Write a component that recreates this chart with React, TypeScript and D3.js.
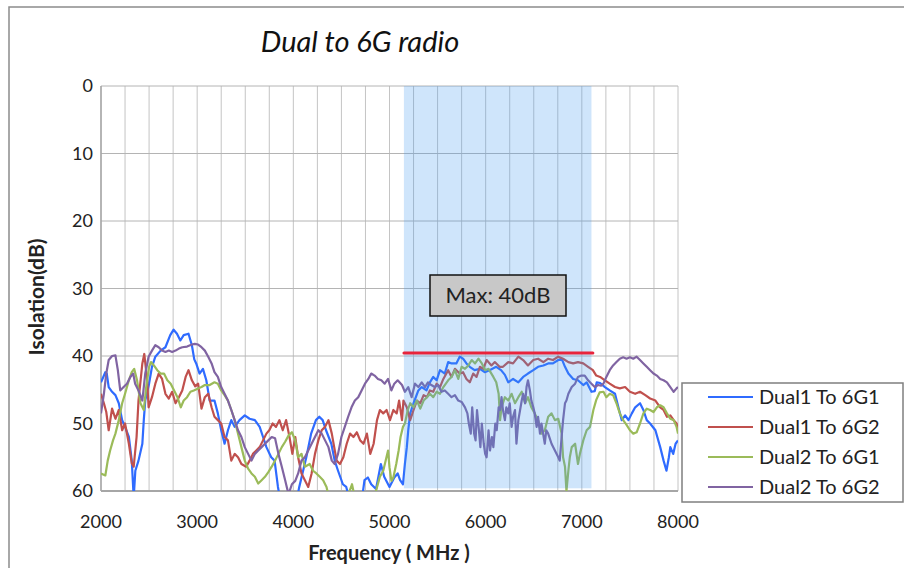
import React from "react";
import * as d3 from "d3";

// Isolation measurements, [frequency MHz, isolation dB]
const dual1To6G1: [number, number][] = [
  [2000,43.9],[2045,42.4],[2060,42.6],[2080,44.6],[2115,45.3],[2150,45.8],[2185,47],[2220,49.5],[2250,50.5],[2290,52],[2320,55.5],[2340,61],[2357,57],[2390,55.5],[2430,53],[2445,49.5],[2460,46.6],[2500,44.1],[2530,41.6],[2565,40.1],[2620,39.2],[2670,38.7],[2720,36.9],[2755,36.1],[2790,36.7],[2825,37.7],[2860,36.9],[2910,36.7],[2945,38.4],[2970,40.5],[2990,41.1],[3025,42.6],[3060,41.9],[3095,43.6],[3130,46.6],[3180,46.6],[3215,48.5],[3250,51],[3285,53],[3320,51],[3355,49.5],[3390,50.5],[3440,49.5],[3495,48.8],[3545,49.3],[3600,49.5],[3650,50.5],[3685,52],[3720,53.5],[3770,55],[3805,55.5],[3840,59.4],[3860,61],[3900,62],[3950,63],[4000,62],[4040,61],[4060,59.5],[4087,57.9],[4135,55],[4185,51.5],[4235,49.5],[4270,49],[4305,49.5],[4340,51],[4395,53],[4430,55.5],[4465,57],[4515,59],[4550,59.4],[4580,61],[4650,62],[4720,60.5],[4740,58.4],[4775,58],[4810,59],[4860,59.7],[4910,56],[4945,57.9],[5000,59.4],[5050,58],[5085,57.4],[5110,58.4],[5140,59],[5160,56],[5180,53.5],[5195,51],[5215,48.5],[5250,47],[5300,45.1],[5335,44.6],[5385,45.1],[5420,43.9],[5455,43.1],[5490,43.6],[5525,42.1],[5575,42.6],[5610,40.9],[5645,41.1],[5695,41.1],[5730,40.1],[5765,40.4],[5800,41.1],[5835,41.6],[5885,42.1],[5940,41.9],[5990,42.4],[6040,42.1],[6110,41.6],[6160,42.1],[6200,42.8],[6235,43.9],[6285,43.4],[6340,43.9],[6390,43.1],[6440,42.6],[6495,42.1],[6545,41.6],[6600,41.4],[6650,41.1],[6700,41.1],[6755,40.6],[6790,40.4],[6825,41.6],[6860,42.6],[6910,43.4],[6960,43.6],[7015,44.3],[7050,43.9],[7100,45.3],[7135,45.2],[7155,43.9],[7190,44],[7240,44.6],[7290,45.1],[7345,45.6],[7380,47.6],[7415,49.5],[7450,48.8],[7485,49.5],[7520,48.5],[7555,47.6],[7605,47],[7640,48],[7675,49.5],[7710,50],[7765,51],[7815,53.5],[7850,55.5],[7880,57],[7905,55],[7920,53.5],[7950,54.5],[7975,53],[8000,52.5],
];

const dual1To6G2: [number, number][] = [
  [2000,45.6],[2030,47],[2055,48.3],[2080,51],[2115,47.8],[2150,49.3],[2185,48],[2220,51],[2250,50],[2290,53],[2320,55.9],[2340,56.4],[2370,52],[2390,46.6],[2430,41.1],[2450,39.7],[2480,43.6],[2495,47.6],[2530,46.1],[2565,44.1],[2600,42.6],[2635,43.4],[2670,45.6],[2705,46.3],[2740,45.3],[2775,47],[2810,46.1],[2845,45.1],[2880,43.1],[2910,42.1],[2945,43.6],[2980,44.5],[3010,44.1],[3045,47.8],[3080,46.1],[3115,45.6],[3150,47.6],[3180,49],[3215,49.5],[3250,50],[3285,52],[3320,52.5],[3355,55.5],[3390,54.5],[3425,55],[3460,56],[3510,56.4],[3545,55.5],[3580,54.5],[3615,54],[3650,53.5],[3685,52.5],[3720,51.5],[3750,51],[3785,50],[3820,50.5],[3855,49.5],[3890,51],[3925,49.5],[3960,52],[3990,54.5],[4020,52],[4050,55],[4085,57.4],[4120,58.4],[4155,59.4],[4190,57.4],[4225,54.5],[4260,52.5],[4295,51],[4330,50.5],[4365,49.5],[4400,51.5],[4425,53.5],[4450,55.5],[4485,56],[4520,55],[4555,53],[4590,51.5],[4625,52],[4660,51.3],[4695,52.5],[4730,53],[4765,51.5],[4800,54.5],[4835,53],[4870,49.5],[4900,48],[4935,48.5],[4970,48],[5005,49.5],[5040,48],[5075,48.5],[5100,46.6],[5130,49.5],[5145,46.6],[5180,47.6],[5215,49.5],[5250,48],[5285,46.6],[5320,47],[5355,45.8],[5390,46.1],[5420,45.1],[5455,45.3],[5490,44.1],[5525,44.6],[5560,43.4],[5610,42.1],[5645,43.1],[5680,41.9],[5730,42.6],[5765,42.4],[5800,43.4],[5835,43.9],[5870,42.6],[5905,43.1],[5940,41.6],[5975,41.9],[6010,40.6],[6060,41.4],[6095,40.9],[6145,41.6],[6180,41.6],[6235,40.9],[6285,41.1],[6340,40.1],[6390,40.6],[6440,41.4],[6495,40.6],[6545,40.4],[6600,40.9],[6650,40.4],[6700,40.6],[6755,40.1],[6805,40.4],[6860,40.9],[6910,41.1],[6960,40.9],[7015,41.1],[7065,41.6],[7115,42.1],[7150,42.9],[7190,43.1],[7240,43.6],[7290,44.1],[7345,44.6],[7395,44.8],[7450,44.6],[7500,45.3],[7555,45.6],[7605,45.3],[7660,45.8],[7710,46.3],[7765,46.6],[7815,47.6],[7850,48],[7885,49],[7920,48.8],[7955,49.5],[7985,50],[8000,51],
];

const dual2To6G1: [number, number][] = [
  [2000,57.4],[2045,57.7],[2070,55.5],[2095,54],[2125,52.5],[2150,51.5],[2185,49.5],[2220,47],[2250,45.6],[2290,43.6],[2320,42.4],[2345,41.9],[2375,43.6],[2410,47],[2445,48],[2470,44.6],[2500,41.6],[2520,40.9],[2550,41.4],[2585,42.1],[2620,42.6],[2655,42.6],[2690,43.6],[2725,44.1],[2760,45.1],[2795,46.1],[2830,47.6],[2860,46.6],[2895,46.1],[2930,45.3],[2965,45.1],[3010,44.8],[3045,44.6],[3080,44.3],[3130,44.3],[3180,43.9],[3215,44.1],[3250,45.1],[3285,45.8],[3320,46.6],[3355,48],[3390,49.5],[3425,51.5],[3460,53.5],[3495,55.5],[3530,56.7],[3565,57.4],[3600,57.9],[3635,58.9],[3670,58.4],[3705,57.9],[3740,57.2],[3775,56.4],[3810,55.5],[3845,54.5],[3880,53.5],[3915,52.7],[3950,51.8],[3985,51.3],[4020,52.5],[4050,55],[4085,54.5],[4120,56.4],[4170,56],[4205,57],[4240,57.4],[4275,57.9],[4310,58.4],[4345,59.4],[4370,61],[4450,62],[4560,61],[4610,59],[4640,61],[4750,62],[4850,60.5],[4900,57.9],[4935,57],[4985,54],[5000,56.5],[5020,58.5],[5040,58],[5070,56],[5095,54],[5115,52],[5140,50.5],[5160,50],[5190,48],[5215,47],[5250,47.6],[5285,46.6],[5320,47.8],[5355,46.6],[5390,46.1],[5420,45.6],[5455,46.1],[5490,45.3],[5525,45.6],[5560,44.6],[5610,43.6],[5645,43.1],[5680,42.1],[5715,43.4],[5750,41.6],[5785,41.9],[5820,41.4],[5855,40.6],[5890,41.1],[5925,40.4],[5960,41.1],[5995,42.1],[6030,41.9],[6080,43.1],[6110,43.9],[6135,45.6],[6150,49.5],[6165,47.6],[6200,46.1],[6235,46.6],[6270,45.6],[6305,47],[6340,46.1],[6375,45.3],[6410,47],[6440,46.1],[6475,47.6],[6510,48.5],[6545,49.5],[6580,51.5],[6615,51],[6650,49],[6685,48.5],[6720,49.5],[6755,49.3],[6790,51.5],[6805,55],[6825,56.4],[6840,60],[6860,57],[6875,55],[6895,53.5],[6930,53],[6960,56],[6980,54.5],[7015,52.5],[7050,51],[7085,50.5],[7120,48],[7150,46.5],[7185,45.4],[7225,45.3],[7255,46.1],[7290,45.6],[7325,45.8],[7360,47],[7395,48.5],[7430,49.5],[7465,50.2],[7500,51],[7535,51.5],[7570,51.3],[7605,50],[7640,48.5],[7675,47.8],[7710,48],[7745,48.3],[7780,47.6],[7815,47.3],[7850,47.6],[7885,48.5],[7920,49.3],[7955,49.5],[7985,50.5],[8000,51.5],
];

const dual2To6G2: [number, number][] = [
  [2000,48.5],[2030,45.6],[2055,42.6],[2080,40.6],[2115,40],[2150,39.9],[2175,42.1],[2200,45.1],[2235,44.6],[2270,44.1],[2305,43.1],[2335,42.6],[2355,44.1],[2390,45.1],[2430,46.6],[2460,42.6],[2495,40.1],[2530,39.2],[2565,38.4],[2600,38.7],[2635,39.2],[2670,39.4],[2705,39.2],[2740,39.4],[2775,39.2],[2810,38.9],[2845,38.7],[2895,38.6],[2945,38.3],[2975,38.2],[3010,38.3],[3045,38.7],[3080,39.2],[3115,40.1],[3150,41.1],[3180,42.4],[3215,43.1],[3250,44.6],[3285,45.6],[3320,46.6],[3355,48],[3390,49.5],[3425,51],[3460,52],[3495,53.5],[3530,54.5],[3565,55.5],[3600,54.5],[3635,54],[3670,53.5],[3705,53],[3740,52.5],[3775,52],[3810,52.2],[3845,54.5],[3880,56.4],[3915,58.4],[3950,60.5],[3985,59],[4020,58.5],[4050,57.4],[4085,55.5],[4120,55],[4155,54],[4190,53],[4225,52],[4260,51],[4295,51.5],[4330,52.5],[4365,53.5],[4400,55.5],[4430,56],[4465,54.5],[4500,52],[4535,50.5],[4570,49],[4605,47.6],[4640,46.6],[4675,46.1],[4710,45.1],[4745,44.1],[4780,43.4],[4810,42.6],[4845,42.9],[4880,43.4],[4915,43.6],[4950,44.1],[4985,43.4],[5020,45.1],[5050,44.1],[5085,43.6],[5130,44.3],[5160,45.3],[5195,44.6],[5230,46.1],[5265,44.1],[5300,44.6],[5335,43.9],[5370,44.6],[5400,43.9],[5435,44.3],[5470,44.6],[5505,44.3],[5540,45.3],[5575,45.1],[5610,45.6],[5645,46.1],[5680,45.8],[5715,46.6],[5750,46.8],[5785,47.6],[5810,48.5],[5825,50],[5845,51.5],[5860,47.6],[5880,51.5],[5895,52.5],[5910,48],[5930,51],[5945,53.5],[5960,50],[5980,53],[5995,54.5],[6010,55],[6030,51],[6045,54],[6065,52],[6080,53.5],[6100,50],[6115,51],[6135,47.6],[6150,48],[6165,46.1],[6180,48],[6200,49.5],[6215,47.6],[6235,48.5],[6250,47],[6270,50.5],[6285,49],[6305,48],[6320,53],[6340,49.5],[6375,46.6],[6390,45.6],[6410,47],[6425,44.6],[6440,43.6],[6460,45.1],[6475,46.6],[6495,47.6],[6510,48.5],[6530,50.5],[6545,49],[6565,51.5],[6580,50],[6615,53],[6630,51],[6650,51.5],[6685,53],[6720,54],[6755,55],[6770,55.5],[6790,52],[6805,49.5],[6825,47],[6840,46.6],[6860,45.6],[6895,44.6],[6930,44.1],[6960,43.1],[6995,42.9],[7030,42.9],[7065,43.6],[7100,44.1],[7135,44.6],[7170,44.3],[7200,44.4],[7225,44.1],[7255,43.1],[7290,42.1],[7325,41.4],[7360,40.9],[7395,40.4],[7430,40.2],[7465,40.4],[7500,40.2],[7535,40.4],[7570,40.1],[7605,40.6],[7640,41.1],[7675,41.6],[7710,42.1],[7745,42.6],[7780,42.9],[7815,43.4],[7850,43.6],[7885,43.9],[7920,44.6],[7955,45.3],[7985,44.8],[8000,44.6],
];

const seriesNames = ["Dual1 To 6G1", "Dual1 To 6G2", "Dual2 To 6G1", "Dual2 To 6G2"];
const seriesData = [dual1To6G1, dual1To6G2, dual2To6G1, dual2To6G2];
const seriesColors = ["#2f6bff", "#c0504d", "#9bbb59", "#8064a2"];

const freqTicks = [2000, 3000, 4000, 5000, 6000, 7000, 8000];
const dbTicks = [0, 10, 20, 30, 40, 50, 60];

// 6 GHz band highlight and the isolation limit
const bandRange = [5150, 7100];
const limitRange = [5150, 7115];
const limitDb = 40;
const limitLabel = "Max: 40dB";

const FONT = "Lato, 'Noto Sans', sans-serif";

export default function App() {
  const W = 904, H = 568;
  const left = 101, right = 678, top = 86, bottom = 491;
  const x = d3.scaleLinear().domain([2000, 8000]).range([left, right]);
  const y = d3.scaleLinear().domain([0, 60]).range([top, bottom]);
  const line = d3.line<[number, number]>().x(d => x(d[0])).y(d => y(d[1]));
  const vGrid = d3.range(2000, 8001, 250);

  return (
    <svg width={W} height={H} style={{ position: "absolute", left: 0, top: 0, background: "#fff" }} fontFamily={FONT}>
      <defs>
        <clipPath id="plotClip">
          <rect x={left} y={top} width={right - left} height={bottom - top} />
        </clipPath>
      </defs>
      <rect x={0} y={0} width={W} height={H} fill="#fff" />
      <rect x={9} y={7} width={1000} height={1000} fill="none" stroke="#8c8c8c" strokeWidth={1.5} />

      {/* title */}
      <text x={360} y={52} textAnchor="middle" fontSize={29} fontStyle="italic" fill="#111">Dual to 6G radio</text>

      {/* grid */}
      {vGrid.map(f => (
        <line key={"v" + f} x1={x(f)} x2={x(f)} y1={top} y2={bottom} stroke="#c4c4c4" strokeWidth={1} />
      ))}
      {dbTicks.map(d => (
        <line key={"h" + d} x1={left} x2={right} y1={y(d)} y2={y(d)} stroke="#b4b4b4" strokeWidth={1} />
      ))}
      <line x1={left} x2={left} y1={top} y2={bottom} stroke="#a6a6a6" strokeWidth={1.5} />
      <line x1={left} x2={right} y1={bottom} y2={bottom} stroke="#a6a6a6" strokeWidth={2} />

      {/* series */}
      <g clipPath="url(#plotClip)">
        {seriesData.map((s, i) => (
          <path key={seriesNames[i]} d={line(s) || ""} fill="none" stroke={seriesColors[i]} strokeWidth={2.2} strokeLinejoin="round" />
        ))}
      </g>

      {/* band highlight */}
      <rect x={x(bandRange[0])} y={y(0)} width={x(bandRange[1]) - x(bandRange[0])} height={y(59.6) - y(0)}
        fill="rgb(63,151,239)" fillOpacity={0.25} />

      {/* limit line */}
      <line x1={x(limitRange[0])} x2={x(limitRange[1])} y1={y(limitDb) - 3} y2={y(limitDb) - 3}
        stroke="#e8243c" strokeWidth={3} strokeLinecap="round" />
      <rect x={430} y={275} width={136} height={41} fill="#c8c8c8" stroke="#111" strokeWidth={1.5} />
      <text x={498} y={303} textAnchor="middle" fontSize={22} fill="#222">{limitLabel}</text>

      {/* axes labels */}
      {dbTicks.map(d => (
        <text key={"yl" + d} x={93} y={y(d)} dy="0.36em" textAnchor="end" fontSize={18} fill="#222">{d}</text>
      ))}
      {freqTicks.map(f => (
        <text key={"xl" + f} x={x(f)} y={528} textAnchor="middle" fontSize={18} fill="#222">{f}</text>
      ))}
      <text x={389} y={560} textAnchor="middle" fontSize={20} fontWeight="bold" fill="#222">Frequency ( MHz )</text>
      <text transform="translate(44,297) rotate(-90)" textAnchor="middle" fontSize={21} fontWeight="bold" fill="#222">Isolation(dB)</text>

      {/* legend */}
      <rect x={682} y={383} width={221} height={119} fill="#fff" stroke="#7f7f7f" strokeWidth={1.5} />
      {seriesNames.map((n, i) => {
        const ly = 397 + i * 30;
        return (
          <g key={n}>
            <line x1={708} x2={753} y1={ly} y2={ly} stroke={seriesColors[i]} strokeWidth={2} />
            <text x={759} y={ly} dy="0.36em" fontSize={20} fill="#222">{n}</text>
          </g>
        );
      })}
    </svg>
  );
}
